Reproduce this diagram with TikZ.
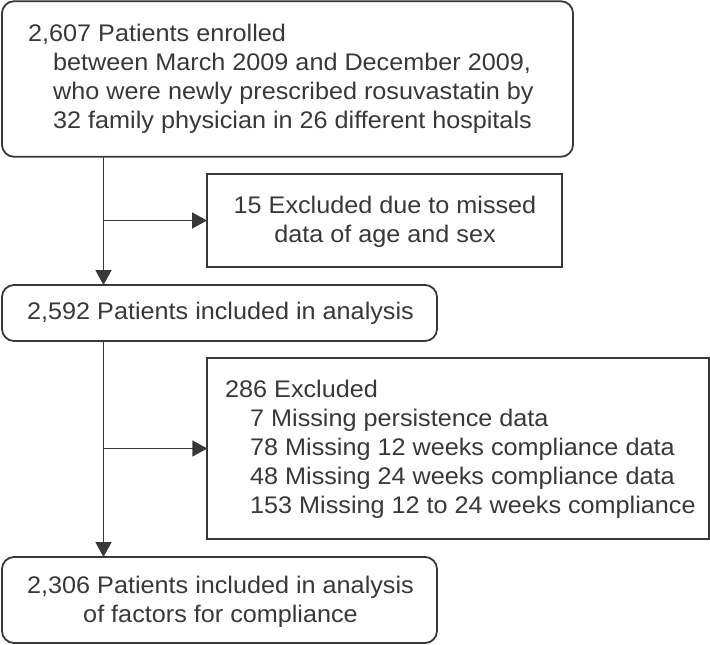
\documentclass[tikz,border=0pt]{standalone}
\usepackage{fontspec}
\setmainfont{Liberation Sans}[FakeStretch=1.05]
\usetikzlibrary{arrows.meta}
\definecolor{ink}{HTML}{383838}
\begin{document}
\begin{tikzpicture}[x=1pt,y=-1pt,
  font=\fontsize{24pt}{29pt}\selectfont,
  every node/.style={text=ink},
  rbox/.style={draw=ink, line width=1.8pt, rounded corners=12pt, inner sep=0pt, outer sep=0pt},
  sbox/.style={draw=ink, line width=1.8pt, inner sep=0pt, outer sep=0pt},
  tl/.style={inner sep=0pt, anchor=base west},
  tc/.style={inner sep=0pt, anchor=base},
  arr/.style={draw=ink, line width=1.8pt, -{Triangle[length=15pt,width=16pt]}}]
\useasboundingbox (0,0) rectangle (710,645);
% boxes
\node[rbox, minimum width=571pt, minimum height=155.5pt] (b1) at (287.5,79) {};
\node[sbox, minimum width=355pt, minimum height=93pt] (b2) at (384.5,220.5) {};
\node[rbox, minimum width=435pt, minimum height=56pt] (b3) at (219.5,313) {};
\node[sbox, minimum width=501.5pt, minimum height=181pt] (b4) at (458,448.5) {};
\node[rbox, minimum width=435pt, minimum height=86pt] (b5) at (219.5,600) {};
% texts
\node[tl] (t1a) at (28,41) {2,607 Patients enrolled};
\node[tl] (t1b) at (53,70) {between March 2009 and December 2009,};
\node[tl] (t1c) at (53,99) {who were newly prescribed rosuvastatin by};
\node[tl] (t1d) at (53,128) {32 family physician in 26 different hospitals};
\node[tc] (t2a) at (385,213) {15 Excluded due to missed};
\node[tc] (t2b) at (385,242) {data of age and sex};
\node[tc] (t3a) at (220.5,319) {2,592 Patients included in analysis};
\node[tl] (t4a) at (225,397) {286 Excluded};
\node[tl] (t4b) at (250,426) {7 Missing persistence data};
\node[tl] (t4c) at (250,455) {78 Missing 12 weeks compliance data};
\node[tl] (t4d) at (250,484) {48 Missing 24 weeks compliance data};
\node[tl] (t4e) at (250,513) {153 Missing 12 to 24 weeks compliance};
\node[tc] (t5a) at (220.5,593) {2,306 Patients included in analysis};
\node[tc] (t5b) at (220.5,622) {of factors for compliance};
% connectors
\coordinate (tx) at (103.5,0);
\draw[arr] (b1.south -| tx) -- (b3.north -| tx);
\draw[arr] (tx |- b2.west) -- (b2.west);
\draw[arr] (b3.south -| tx) -- (b5.north -| tx);
\draw[arr] (tx |- b4.west) -- (b4.west);
\end{tikzpicture}
\end{document}
